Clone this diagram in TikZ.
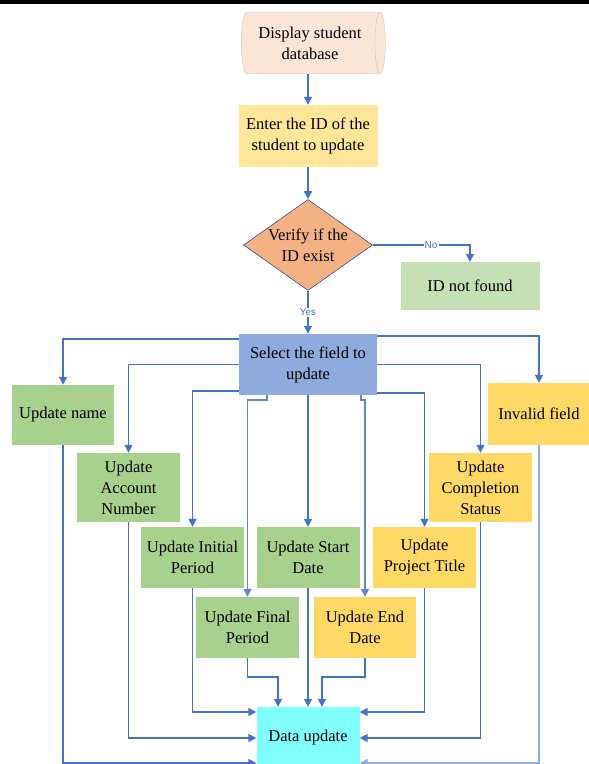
\documentclass[tikz,border=0pt]{standalone}
\usepackage{fontspec}
\setmainfont{Liberation Serif}
\newfontfamily\lblfont{Liberation Sans}
\usetikzlibrary{arrows.meta,positioning,calc,shapes.geometric}
\definecolor{dbpeach}{HTML}{FBE5D6}
\definecolor{inyellow}{HTML}{FFE699}
\definecolor{decorange}{HTML}{F4B183}
\definecolor{nfgreen}{HTML}{C5E0B4}
\definecolor{selblue}{HTML}{8FAADC}
\definecolor{updgreen}{HTML}{A9D18E}
\definecolor{updyellow}{HTML}{FFD966}
\definecolor{datcyan}{HTML}{80FFFF}
\definecolor{lnblue}{HTML}{4472C4}
\definecolor{rimblue}{HTML}{2F528F}
\tikzset{
  blk/.style={rectangle,minimum width=103pt,minimum height=61pt,inner sep=1pt,align=center,font=\fontsize{16.5}{21}\selectfont},
  grnblk/.style={blk,fill=updgreen},
  ylwblk/.style={blk,fill=updyellow},
  dbblk/.style={blk,cylinder,shape aspect=0.3,minimum width=61pt,minimum height=144pt,fill=dbpeach,draw=dbpeach!80!black,line width=0.3pt},
  decblk/.style={diamond,minimum width=129pt,minimum height=91pt,inner sep=0pt,fill=decorange,draw=rimblue,line width=0.6pt},
  dectxt/.style={align=center,font=\fontsize{16.5}{21}\selectfont},
  arr/.style={-{Triangle[length=8pt,width=8pt]},line width=1.5pt,draw=lnblue},
  lbl/.style={fill=white,inner sep=1pt,text=lnblue,font=\lblfont\fontsize{10}{11}\selectfont}
}
\begin{document}
\begin{tikzpicture}[x=1pt,y=-1pt]
  \clip (0,0) rectangle (589,764);
  \fill[black] (0,0) rectangle (589,4);

  % Entry and check
  \node[dbblk] (db) at (310,43) {Display student\\database};
  \node[blk, fill=inyellow, minimum width=139pt, minimum height=62pt] (enter) at (308,136) {Enter the ID of the\\student to update};
  \node[decblk, label={[dectxt]center:Verify if the\\ID exist}] (verify) at (308,245) {};
  \node[blk, fill=nfgreen, minimum width=139pt, minimum height=48pt] (notfound) at (470,286) {ID not found};
  \node[blk, fill=selblue, minimum width=138pt] (select) at (308,364.5) {Select the field to\\update};

  \draw[arr] (db.south -| enter.north) -- (enter.north);
  \draw[arr] (enter) -- (verify);
  \draw[arr] (verify.east) -| node[lbl, pos=0.3] {No} (notfound.north);
  \draw[arr] (verify.south) -- node[lbl] {Yes} (select.north);

  % Field updates
  \node[grnblk, minimum width=102pt, minimum height=60pt] (name) at (63,415) {Update name};
  \node[grnblk, minimum height=69pt] (account) at (128.5,487.5) {Update\\Account\\Number};
  \node[grnblk] (initial) at (192.5,557.5) {Update Initial\\Period};
  \node[grnblk] (start) at (308,557.5) {Update Start\\Date};
  \node[grnblk] (final) at (247.5,627.5) {Update Final\\Period};
  \node[ylwblk, minimum width=102pt] (enddate) at (365,627.5) {Update End\\Date};
  \node[ylwblk] (project) at (424.5,557.5) {Update\\Project Title};
  \node[ylwblk, minimum height=69pt] (completion) at (480.5,487.5) {Update\\Completion\\Status};
  \node[ylwblk, minimum width=102pt, minimum height=62pt] (invalid) at (539,414) {Invalid field};

  \draw[arr] ($(select.north west)+(0,5)$) -| (name.north);
  \draw[arr] (select.west) -| (account.north);
  \draw[arr] ($(select.south west)+(0,-4)$) -| (initial.north);
  \draw[arr, draw=lnblue!85] ($(select.south)+(-41,0)$) -- ++(0,5) -| (final.north);
  \draw[arr] (select) -- (start);
  \draw[arr, draw=lnblue!85] ($(select.south)+(53,0)$) -- ++(0,5) -| (enddate.north);
  \draw[arr] ($(select.south east)+(0,-2)$) -| (project.north);
  \draw[arr] (select.east) -| (completion.north);
  \draw[arr] ($(select.north east)+(0,2)$) -| (invalid.north);

  % Collect into data update
  \node[blk, fill=datcyan, minimum height=62pt] (dataupd) at (308,738) {Data update};

  \draw[arr] (initial.south) |- ($(dataupd.west)+(0,-26)$);
  \draw[arr] (account.south) |- (dataupd.west);
  \draw[arr] (name.south) |- ($(dataupd.west)+(0,25)$);
  \draw[arr] (final.south) -- ++(0,19) -| ($(dataupd.north)+(-30,0)$);
  \draw[arr] (start) -- (dataupd);
  \draw[arr] (enddate.south) -- ++(0,19) -| ($(dataupd.north)+(14,0)$);
  \draw[arr] (project.south) |- ($(dataupd.east)+(0,-26)$);
  \draw[arr] (completion.south) |- (dataupd.east);
  \draw[arr, draw=lnblue!60] (invalid.south) |- ($(dataupd.east)+(0,25)$);
\end{tikzpicture}
\end{document}
